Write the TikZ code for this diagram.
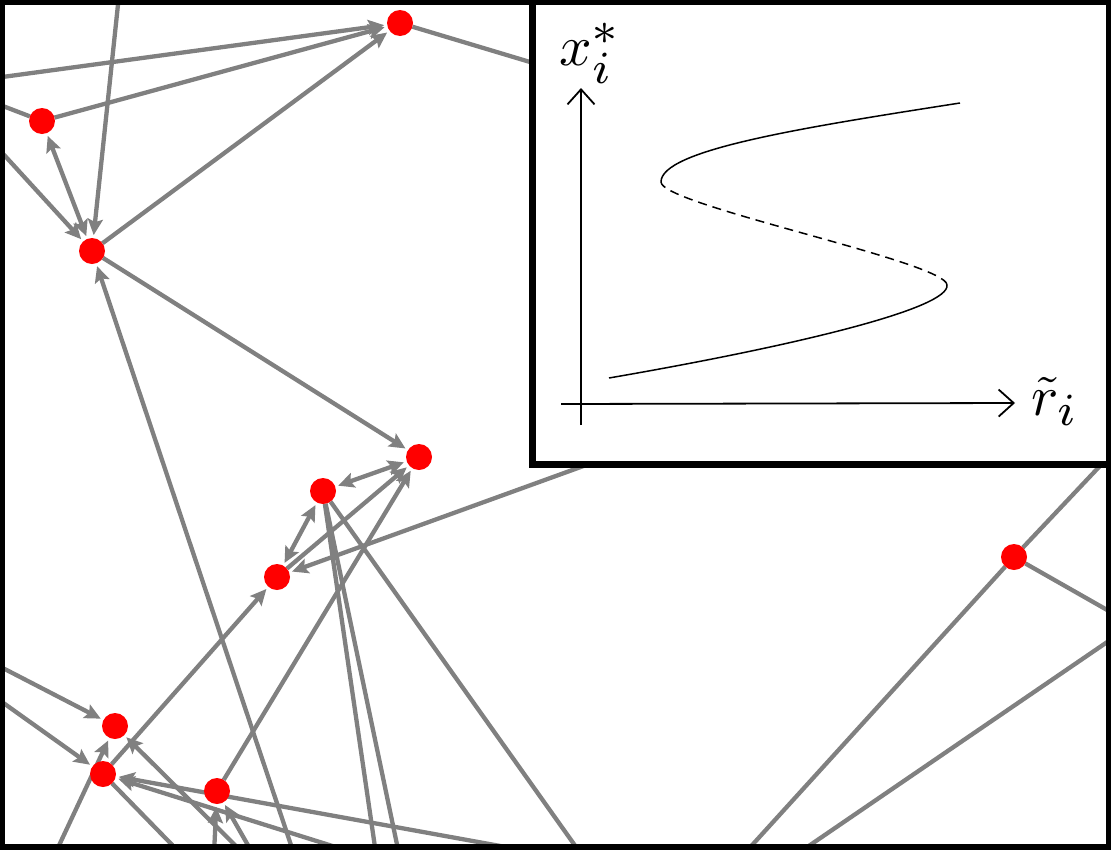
\documentclass[tikz,border=0pt]{standalone}
\usepackage{graphicx}
\usetikzlibrary{arrows.meta}
\pgfdeclarelayer{bg}
\pgfsetlayers{bg,main}
\newcommand{\bigsub}[1]{\scalebox{1.15}{$\scriptstyle #1$}}
\begin{document}
\begin{tikzpicture}[x=1pt,y=-1pt,
  vtx/.style={circle,fill=red,minimum size=26pt,inner sep=0pt,outer sep=0pt},
  edge/.style={draw=gray,line width=4.3pt},
  tip/.tip={Stealth[length=16pt,width=15pt,inset=3pt]},
  arr/.style={edge,-tip,shorten >=3pt},
  biarr/.style={edge,tip-tip,shorten >=3pt,shorten <=3pt},
  axis/.style={line width=1.8pt,-{Straight Barb[length=15pt,width=27pt]}},
  branch/.style={line width=1.5pt},
  unstable/.style={line width=1.5pt,dash pattern=on 9pt off 6pt},
  lab/.style={inner sep=0pt}]
\useasboundingbox (0,0) rectangle (1111,849);
\clip (0,0) rectangle (1111,849);
% nodes
\node[vtx] (A) at (400,23) {};
\node[vtx] (B) at (42,121) {};
\node[vtx] (C) at (92,251) {};
\node[vtx] (D) at (419,457) {};
\node[vtx] (E) at (323,491) {};
\node[vtx] (F) at (277,577) {};
\node[vtx] (G) at (1014,557) {};
\node[vtx] (H) at (115,726) {};
\node[vtx] (I) at (103,774) {};
\node[vtx] (J) at (217,791) {};
% free ends
\coordinate (pA1) at (-5,78);
\coordinate (pA2) at (560,71);
\coordinate (pB) at (-5,103);
\coordinate (pC1) at (-5,145);
\coordinate (pC2) at (119,-5);
\coordinate (pC3) at (294,854);
\coordinate (pF1) at (600,460);
\coordinate (pE1) at (376,854);
\coordinate (pE2) at (399,854);
\coordinate (pE3) at (581,854);
\coordinate (pH1) at (-5,664);
\coordinate (pH2) at (55,854);
\coordinate (pH3) at (244,854);
\coordinate (pI1) at (-5,697);
\coordinate (pI2) at (550,855);
\coordinate (pI3) at (358,854);
\coordinate (pI4) at (181,854);
\coordinate (pJ1) at (214,854);
\coordinate (pJ2) at (253,854);
\coordinate (pG1) at (1115,450);
\coordinate (pG2) at (744,854);
\coordinate (pG3) at (1116,615);
\coordinate (pR1) at (1116,636);
\coordinate (pR2) at (797,854);
\begin{pgfonlayer}{bg}
\draw[arr] (pA1) -- (A);
\draw[arr] (B) -- (A);
\draw[arr] (C) -- (A);
\draw[edge] (A) -- (pA2);
\draw[edge] (pB) -- (B);
\draw[arr] (pC1) -- (C);
\draw[arr] (pC2) -- (C);
\draw[biarr] (B) -- (C);
\draw[arr] (C) -- (D);
\draw[arr] (pC3) -- (C);
\draw[biarr] (E) -- (D);
\draw[biarr] (F) -- (E);
\draw[arr] (F) -- (D);
\draw[arr] (J) -- (D);
\draw[arr] (pF1) -- (F);
\draw[arr] (I) -- (F);
\draw[edge] (E) -- (pE1);
\draw[edge] (E) -- (pE2);
\draw[edge] (E) -- (pE3);
\draw[arr] (pH1) -- (H);
\draw[arr] (pI1) -- (I);
\draw[arr] (pH2) -- (H);
\draw[arr] (pH3) -- (H);
\draw[arr] (pI2) -- (I);
\draw[arr] (pI3) -- (I);
\draw[arr] (pJ1) -- (J);
\draw[arr] (pJ2) -- (J);
\draw[edge] (I) -- (pI4);
\draw[edge] (G) -- (pG1);
\draw[edge] (G) -- (pG2);
\draw[edge] (G) -- (pG3);
\draw[edge] (pR1) -- (pR2);
\end{pgfonlayer}
% inset
\draw[line width=7pt,fill=white] (532.5,-10) rectangle (1120,464.5);
\draw[axis] (581,425) -- (581,88);
\draw[axis] (561,404) -- (1015,403);
\node[lab,anchor=base west] (ylab) at (559,65) {\scalebox{5.7}{$x_{\bigsub{i}}^{\bigsub{*}}$}};
\node[lab,anchor=base west] (xlab) at (1031,415) {\scalebox{5.7}{$\tilde{r}_{\bigsub{i}}$}};
\draw[branch] (609,378) .. controls (800,345) and (950,308) .. (947,285);
\draw[unstable] (947,285) .. controls (947,262) and (661,205) .. (661,182);
\draw[branch] (661,182) .. controls (661,150) and (800,128) .. (960,103);
% frame
\draw[line width=10pt] (0,0) rectangle (1111,849);
\end{tikzpicture}
\end{document}
